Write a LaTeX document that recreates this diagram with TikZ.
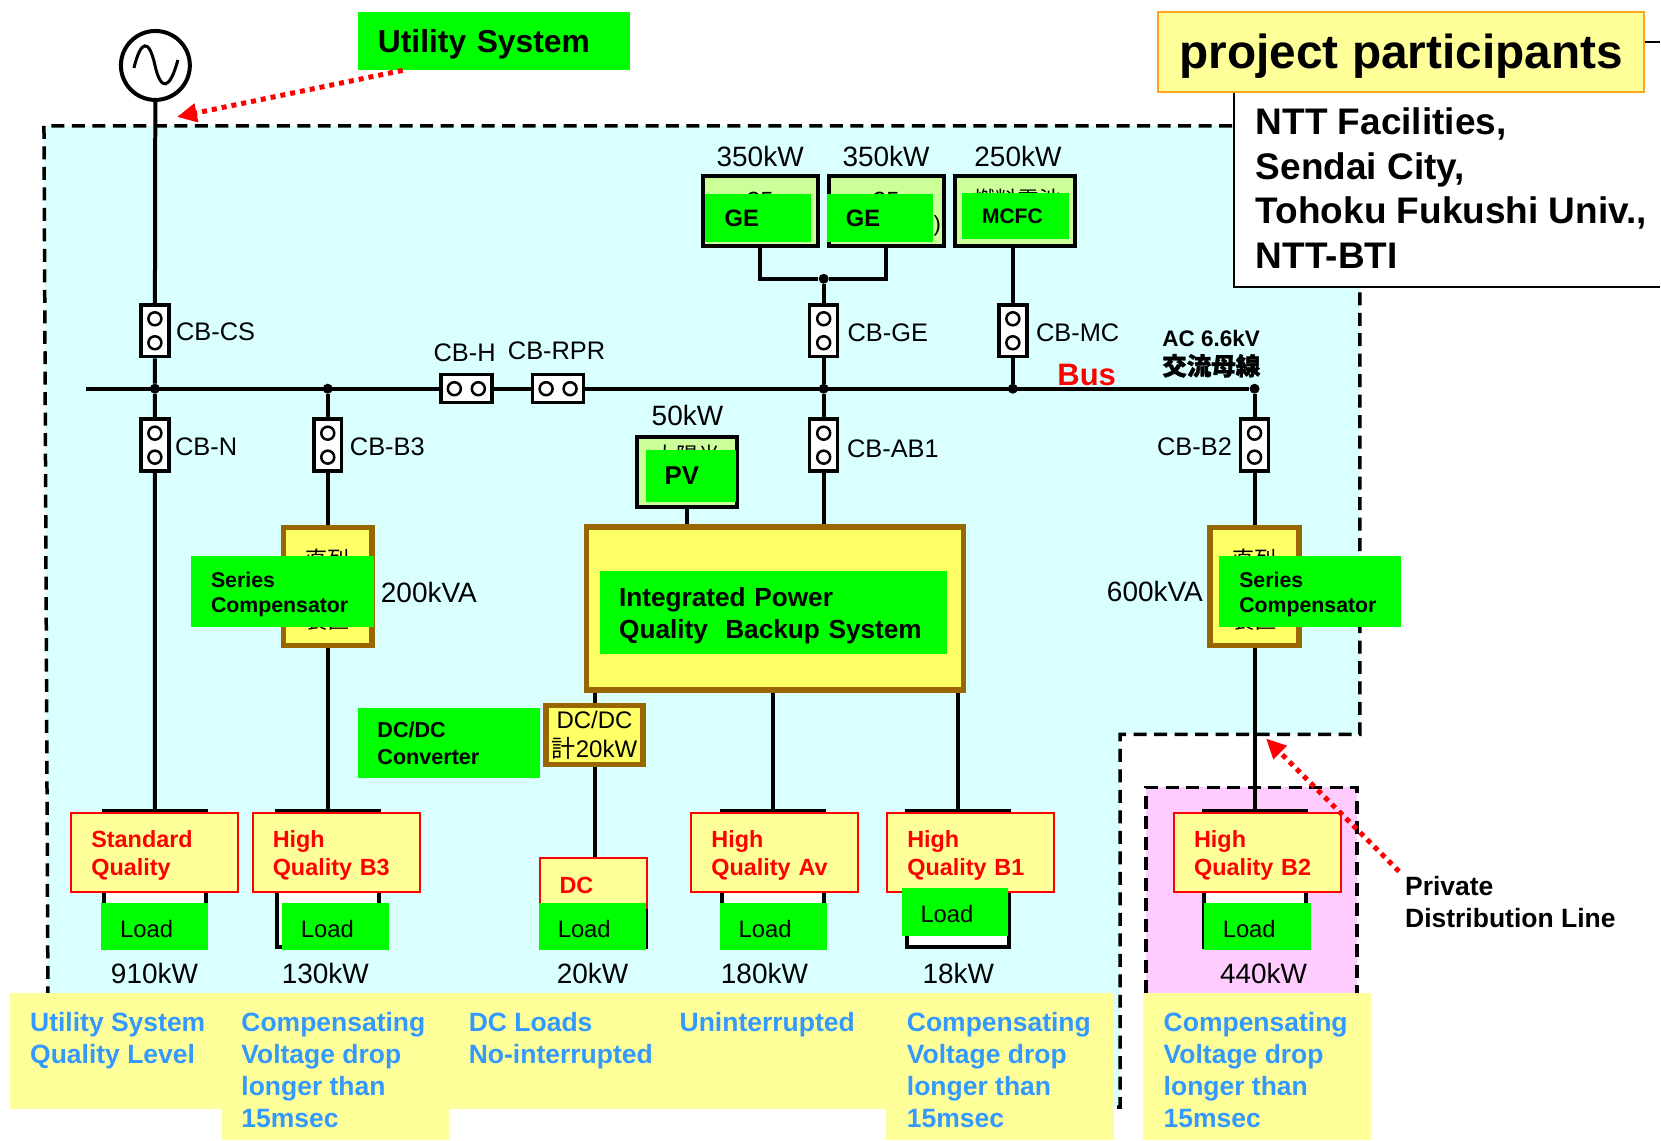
\documentclass[tikz,border=0pt]{standalone}
\usepackage{fontspec}
\setmainfont{Liberation Sans}
\newfontfamily\cjk{Noto Sans CJK JP}
\newfontfamily\cjkb[FakeBold=1.5]{Noto Sans CJK JP}
\usetikzlibrary{arrows.meta}
\definecolor{skyfill}{HTML}{DAFFFF}
\definecolor{pinkfill}{HTML}{FFCCFF}
\definecolor{paleyellow}{HTML}{FFFF99}
\definecolor{boxyellow}{HTML}{FFFF66}
\definecolor{brownline}{HTML}{996600}
\definecolor{palegreen}{HTML}{CCFF99}
\definecolor{orangeline}{HTML}{FFA31A}
\definecolor{bluetext}{HTML}{3399FF}

\begin{document}
\begin{tikzpicture}[x=1pt,y=-1pt]

\tikzset{wire/.style = {line width=4pt}}
\tikzset{boundary/.style = {line width=3.5pt, dash pattern=on 13pt off 7.5pt}}
\tikzset{pointer/.style = {red, line width=5pt, dash pattern=on 5pt off 5pt, ->, > = {Triangle[length=20pt,width=18pt]}}}
\tikzset{dot/.style = {circle, fill=black, inner sep=0pt, minimum size=10pt}}
\tikzset{value/.style = {font=\fontsize{28}{30}\selectfont, inner sep=0pt}}
\tikzset{cblabel/.style = {font=\fontsize{25.4}{28}\selectfont, inner sep=0pt}}
\tikzset{hidden/.style = {font=\cjk\fontsize{22}{24}\selectfont, inner sep=0pt}}
\tikzset{breaker/.style = {draw, fill=white, line width=3.5pt, inner sep=0pt}}
\tikzset{cbv/.style = {breaker, minimum width=28pt, minimum height=52pt, path picture={
  \draw[line width=2.5pt] ([yshift=12pt]path picture bounding box.center) circle (6.5pt)
  ([yshift=-12pt]path picture bounding box.center) circle (6.5pt);}}}
\tikzset{cbh/.style = {breaker, minimum width=51pt, minimum height=28pt, path picture={
  \draw[line width=2.5pt] ([xshift=12pt]path picture bounding box.center) circle (6.5pt)
  ([xshift=-12pt]path picture bounding box.center) circle (6.5pt);}}}
\tikzset{source/.style = {draw, fill=palegreen, line width=4pt, inner sep=0pt, minimum height=70pt}}
\tikzset{converter/.style = {draw=brownline, fill=boxyellow, line width=5.5pt, inner sep=0pt}}
\tikzset{greentag/.style = {fill=green, anchor=north west, align=left, inner ysep=0pt, font=\bfseries\fontsize{21.3}{25}\selectfont}}
\tikzset{quality/.style = {draw=red, fill=paleyellow, line width=2pt, anchor=north west, align=left, inner xsep=20pt,
  inner ysep=0pt, text width=127pt, minimum height=79pt, text depth=27pt, text=red, font=\bfseries\fontsize{23.4}{28}\selectfont}}
\tikzset{frame/.style = {draw, fill=white, line width=4pt, inner sep=0pt, minimum width=102pt, anchor=north}}
\tikzset{loadtag/.style = {fill=green, anchor=north west, align=left, inner xsep=19pt, inner ysep=0pt, text width=69pt,
  minimum height=47.5pt, text height=21.5pt, font=\fontsize{23.8}{26}\selectfont}}
\tikzset{blue note/.style = {text=bluetext, anchor=north west, align=left, inner sep=0pt, font=\bfseries\fontsize{26.5}{32}\selectfont}}

%areas
\fill[skyfill] (44,126) -- (1361,126) -- (1361,735) -- (1121,735) -- (1121,1108) -- (48,1108) -- cycle;
\draw[boundary] (48,1000) -- (44,126) -- (1361,126) -- (1361,735) -- (1121,735) -- (1121,1108) -- (1115,1108);
\fill[pinkfill] (1147,788) rectangle (1358,994);
\draw[boundary] (1147,994) -- (1147,788) -- (1358,788) -- (1358,994);
\fill[paleyellow] (10,994) rectangle (1115,1110);
\fill[paleyellow] (222,1110) rectangle (449,1141);
\fill[paleyellow] (887,1110) rectangle (1115,1141);
\fill[paleyellow] (1144,994) rectangle (1372,1141);

%source and breakers
\node[circle, draw, fill=white, line width=4pt, minimum size=69pt, inner sep=0pt] (grid) at (155.5,65.5) {};
\draw[line width=3pt] (134,68) .. controls (141,40) and (149,38) .. (155,65) .. controls (161,92) and (170,90) .. (178,60);
\node[cbv] (cbcs) at (155,331) {};
\node[cbv] (cbn) at (155,445.5) {};
\node[cbv] (cbb3) at (328,445.5) {};
\node[cbh] (cbhh) at (466.7,389) {};
\node[cbh] (cbrpr) at (558.5,389) {};
\node[cbv] (cbge) at (824.3,331) {};
\node[cbv] (cbab) at (824.3,445.5) {};
\node[cbv] (cbmc) at (1013.6,331) {};
\node[cbv] (cbb2) at (1255.5,445.5) {};

\node[dot] (jcs) at (155,389) {};
\node[dot] (jb3) at (328,389) {};
\node[dot] (jge) at (824.3,389) {};
\node[dot] (jmc) at (1013.6,389) {};
\node[dot] (jb2) at (1255.5,389) {};
\node[dot] (jgen) at (824.3,279) {};
\coordinate (busleft) at (86,389);

%generators
\node[source, minimum width=115pt] (ge1) at (760.7,211) {};
\node[source, minimum width=115pt] (ge2) at (886.7,211) {};
\node[source, minimum width=120pt] (mcfc) at (1015.5,211) {};
\node[source, minimum width=100pt] (pvbox) at (687.7,472) {};
\node[hidden] (gepeek1) at (760,201) {GE};
\node[hidden] (gepeek2) at (886,201) {GE};
\node[hidden, font=\fontsize{22}{24}\selectfont] (geparen) at (938,226) {)};
\node[hidden] (mcpeek) at (1018,199) {燃料電池};
\node[hidden] (pvpeek) at (688,456) {太陽光};

%converters
\node[converter, minimum width=89pt, minimum height=118pt] (sc1) at (328,587) {};
\node[converter, minimum width=89pt, minimum height=118pt] (sc2) at (1255.5,587) {};
\node[hidden] (sc1top) at (328,560) {直列};
\node[hidden] (sc1low) at (328,621) {装置};
\node[hidden] (sc2top) at (1255.5,560) {直列};
\node[hidden] (sc2low) at (1255.5,621) {装置};
\node[converter, minimum width=377pt, minimum height=163pt] (ipbox) at (775.5,609) {};
\node[converter, minimum width=97pt, minimum height=59pt, align=center, font=\fontsize{24}{29}\selectfont] (dcdc) at (595,735.5)
  {DC/DC\\{\cjk 計}20kW};

%loads
\node[frame, minimum height=136pt] (frstd) at (155,810) {};
\node[frame, minimum height=136pt] (frb3) at (328,810) {};
\node[frame, minimum height=86pt] (frdc) at (595,860) {};
\node[frame, minimum height=136pt] (frav) at (773.5,810) {};
\node[frame, minimum height=136pt] (frb1) at (959,810) {};
\node[frame, minimum height=136pt] (frb2) at (1255.5,810) {};

%wires
\draw[wire] (grid) -- (cbcs) (cbcs) -- (jcs) (jcs) -- (cbn) (cbn) -- (frstd);
\draw[wire] (busleft) -- (cbhh) (cbhh) -- (cbrpr) (cbrpr) -- (jb2);
\draw[wire] (jb3) -- (cbb3) (cbb3) -- (sc1) (sc1) -- (frb3);
\draw[wire] (jb2) -- (cbb2) (cbb2) -- (sc2) (sc2) -- (frb2);
\draw[wire] (ge1) |- (jgen) (jgen) -| (ge2);
\draw[wire] (jgen) -- (cbge) (cbge) -- (jge) (jge) -- (cbab) (cbab) -- (cbab |- ipbox.north);
\draw[wire] (cbmc |- mcfc.south) -- (cbmc) (cbmc) -- (jmc);
\draw[wire] (pvbox) -- (pvbox |- ipbox.north);
\draw[wire] (dcdc |- ipbox.south) -- (dcdc) (dcdc) -- (frdc);
\draw[wire] (frav |- ipbox.south) -- (frav);
\draw[wire] (frb1 |- ipbox.south) -- (frb1);

%green tags
\node[greentag, inner xsep=20pt, text width=232pt, minimum height=58pt, text depth=0pt, font=\bfseries\fontsize{31.8}{34}\selectfont] (utility) at (358,12) {Utility System};
\node[greentag, inner xsep=20pt, text width=66pt, minimum height=48pt, font=\bfseries\fontsize{23.7}{26}\selectfont] (getag1) at (705,194) {GE};
\node[greentag, inner xsep=19pt, text width=67.6pt, minimum height=48pt, font=\bfseries\fontsize{23.7}{26}\selectfont] (getag2) at (827.4,194) {GE};
\node[greentag, inner xsep=19.6pt, text width=67.3pt, minimum height=46pt, font=\bfseries\fontsize{21}{24}\selectfont] (mctag) at (963,193) {MCFC};
\node[greentag, inner xsep=19pt, text width=52pt, minimum height=52pt, font=\bfseries\fontsize{25.8}{28}\selectfont] (pvtag) at (646,450) {PV};
\node[greentag, inner xsep=19.4pt, text width=308.8pt, minimum height=83.7pt, text depth=30.7pt, font=\bfseries\fontsize{26.2}{32}\selectfont] (iptag) at (600,571) {Integrated Power\\Quality\ \ Backup System};
\node[greentag, inner xsep=20pt, text width=142.7pt, minimum height=71pt, text depth=22.5pt] (sctag1) at (191,556) {Series\\Compensator};
\node[greentag, inner xsep=20pt, text width=142pt, minimum height=71pt, text depth=22.5pt] (sctag2) at (1220,556) {Series\\Compensator};
\node[greentag, inner xsep=19.5pt, text width=143pt, minimum height=70pt, text depth=25.5pt, font=\bfseries\fontsize{21.6}{27}\selectfont] (dctag) at (358,708) {DC/DC\\Converter};

%quality boxes
\node[quality] (qstd) at (70.4,813) {Standard\\Quality};
\node[quality] (qb3) at (252,813) {High\\Quality B3};
\node[quality, text width=67pt, minimum height=50pt, text height=21pt, text depth=0pt] (qdc) at (539,858) {DC};
\node[quality] (qav) at (691,813) {High\\Quality Av};
\node[quality] (qb1) at (887,813) {High\\Quality B1};
\node[quality] (qb2) at (1174,813) {High\\Quality B2};
\node[loadtag] (lstd) at (101,903.5) {Load};
\node[loadtag] (lb3) at (282,903.5) {Load};
\node[loadtag] (ldc) at (539,903.5) {Load};
\node[loadtag] (lav) at (720,903.5) {Load};
\node[loadtag] (lb1) at (902,888.5) {Load};
\node[loadtag] (lb2) at (1204.5,903.5) {Load};

%ratings
\node[value] (kw1) at (760.7,157) {350kW};
\node[value] (kw2) at (886.7,157) {350kW};
\node[value] (kw3) at (1018.7,157) {250kW};
\node[value] (kw4) at (688,416) {50kW};
\node[value, anchor=west] (kva1) at (381,593) {200kVA};
\node[value, anchor=east] (kva2) at (1204,592) {600kVA};
\node[value] (kw5) at (154.6,974) {910kW};
\node[value] (kw6) at (325.6,974) {130kW};
\node[value] (kw7) at (593,974) {20kW};
\node[value] (kw8) at (765,974) {180kW};
\node[value] (kw9) at (959,974) {18kW};
\node[value] (kw10) at (1264.5,974) {440kW};

%breaker names
\node[cblabel, anchor=west] (lcs) at (176,332.5) {CB-CS};
\node[cblabel, anchor=west] (ln) at (175,447) {CB-N};
\node[cblabel, anchor=west] (lb3n) at (350,447) {CB-B3};
\node[cblabel] (lh) at (465,353) {CB-H};
\node[cblabel] (lrpr) at (557,351) {CB-RPR};
\node[cblabel, anchor=west] (lge) at (848,333) {CB-GE};
\node[cblabel, anchor=west] (lmc) at (1036.7,333) {CB-MC};
\node[cblabel, anchor=west] (lab) at (847.5,449) {CB-AB1};
\node[cblabel, anchor=east] (lb2n) at (1233,447) {CB-B2};

\node[text=red, inner sep=0pt, font=\bfseries\fontsize{31}{33}\selectfont] (busname) at (1087.5,375) {Bus};
\node[inner sep=0pt, align=left, anchor=west, font=\bfseries\fontsize{22.5}{29}\selectfont] (busvolt) at (1163,354)
  {AC 6.6kV\\{\cjkb\fontsize{24.5}{29}\selectfont 交流母線}};

%participants
\fill[white] (1235,92) rectangle (1661,287);
\draw[line width=2.5pt] (1235,92) -- (1235,287) -- (1661,287);
\node[draw=orangeline, fill=paleyellow, line width=2pt, minimum width=486pt, minimum height=80pt, inner sep=0pt, text depth=0pt,
  font=\bfseries\fontsize{47.8}{50}\selectfont] (title) at (1402.3,51.6) {project participants};
\node[anchor=north west, align=left, inner sep=0pt, font=\bfseries\fontsize{37}{44.5}\selectfont] (parties) at (1256.6,108)
  {NTT Facilities,\\Sendai City,\\Tohoku Fukushi Univ.,\\NTT-BTI};
\coordinate (edge) at (1661,42);
\draw[line width=2pt] ([yshift=9.6pt]title.east) -- (edge);

%notes
\node[blue note] (note1) at (30,1013) {Utility System\\Quality Level};
\node[blue note] (note2) at (241.4,1013) {Compensating\\Voltage drop\\longer than\\15msec};
\node[blue note] (note3) at (469,1013) {DC Loads\\No-interrupted};
\node[blue note] (note4) at (680,1013) {Uninterrupted};
\node[blue note] (note5) at (907.4,1013) {Compensating\\Voltage drop\\longer than\\15msec};
\node[blue note] (note6) at (1164.4,1013) {Compensating\\Voltage drop\\longer than\\15msec};
\node[anchor=north west, align=left, inner sep=0pt, font=\bfseries\fontsize{26.5}{32}\selectfont] (private) at (1406,877)
  {Private\\Distribution Line};

%pointers
\coordinate (gridend) at (177,117);
\coordinate (lineend) at (1267,739);
\draw[pointer] ([xshift=45pt]utility.south west) -- (gridend);
\draw[pointer] ([xshift=-6pt,yshift=5pt]private.north west) -- (lineend);

\useasboundingbox (0,0) rectangle (1661,1141);
\end{tikzpicture}
\end{document}
